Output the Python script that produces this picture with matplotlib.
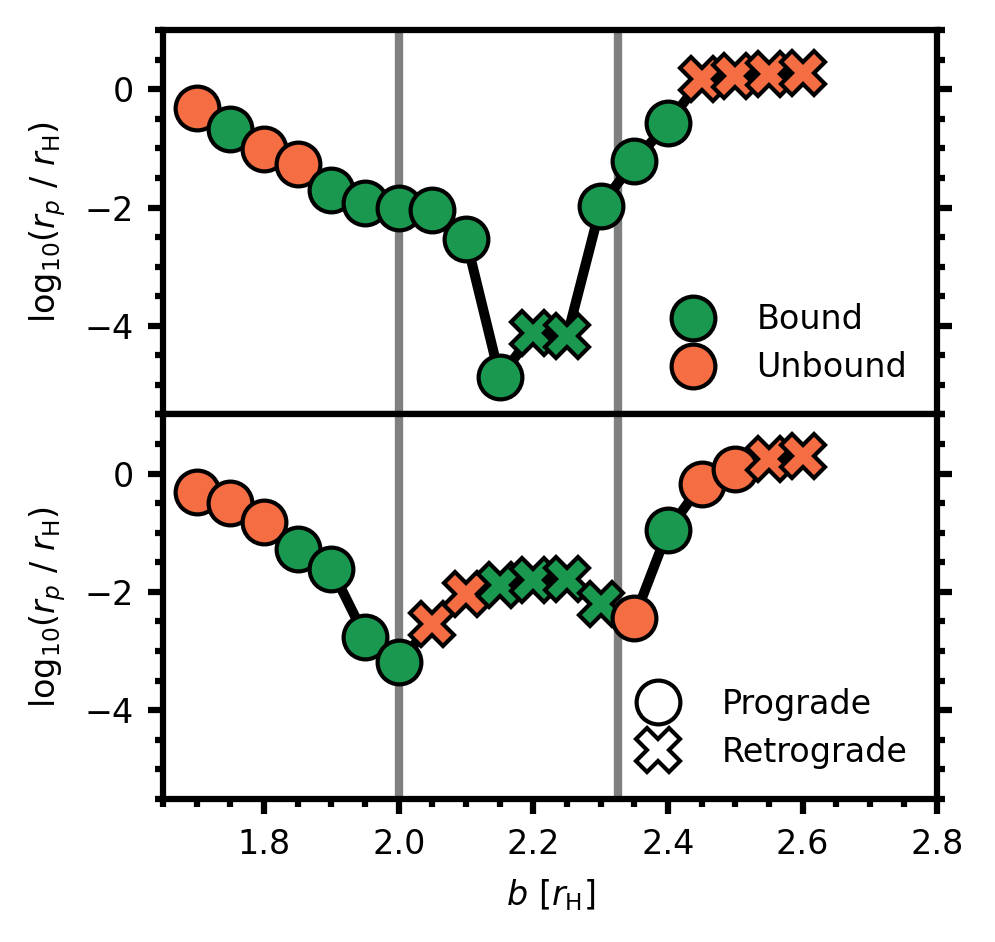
import numpy as np
import matplotlib
matplotlib.use('Agg')
import matplotlib.pyplot as plt
from matplotlib.lines import Line2D
from matplotlib.ticker import MultipleLocator

# impact parameter b [r_H]
b = [1.70, 1.75, 1.80, 1.85, 1.90, 1.95, 2.00, 2.05, 2.10, 2.15,
     2.20, 2.25, 2.30, 2.35, 2.40, 2.45, 2.50, 2.55, 2.60]

# top panel
logrp_top = [-0.31, -0.67, -1.01, -1.27, -1.70, -1.93, -2.01, -2.04, -2.54, -4.87,
             -4.13, -4.18, -1.97, -1.22, -0.57, 0.17, 0.22, 0.25, 0.28]
bound_top = [0, 1, 0, 0, 1, 1, 1, 1, 1, 1,
             1, 1, 1, 1, 1, 0, 0, 0, 0]
retro_top = [0, 0, 0, 0, 0, 0, 0, 0, 0, 0,
             1, 1, 0, 0, 0, 1, 1, 1, 1]

# bottom panel
logrp_bot = [-0.31, -0.50, -0.82, -1.28, -1.61, -2.76, -3.19, -2.54, -2.03, -1.89,
             -1.80, -1.78, -2.20, -2.44, -0.96, -0.18, 0.08, 0.25, 0.29]
bound_bot = [0, 0, 0, 1, 1, 1, 1, 0, 0, 1,
             1, 1, 1, 0, 1, 0, 0, 0, 0]
retro_bot = [0, 0, 0, 0, 0, 0, 0, 1, 1, 1,
             1, 1, 1, 0, 0, 0, 0, 1, 1]

vlines = [2.0, 2.325]

GREEN = '#1a9850'
ORANGE = '#f46d43'
MS = 10.5
FS = 8


def draw_panel(ax, y, bound, retro):
    for xv in vlines:
        ax.axvline(xv, color='grey', lw=2.0, zorder=0)
    ax.plot(b, y, color='k', lw=2.4, zorder=1)
    for xi, yi, bd, rt in zip(b, y, bound, retro):
        ax.plot(xi, yi, marker='X' if rt else 'o', ms=MS, mfc=GREEN if bd else ORANGE,
                mec='k', mew=1.0, ls='none', zorder=2)
    ax.set_xlim(1.65, 2.8)
    ax.set_ylim(-5.5, 1)
    ax.yaxis.set_major_locator(MultipleLocator(2))
    ax.yaxis.set_minor_locator(MultipleLocator(0.5))
    ax.xaxis.set_major_locator(MultipleLocator(0.2))
    ax.xaxis.set_minor_locator(MultipleLocator(0.05))
    ax.tick_params(which='both', direction='out', right=True, width=1.5, labelsize=FS)
    ax.tick_params(which='major', length=3.5)
    ax.tick_params(which='minor', length=2.0)
    for sp in ax.spines.values():
        sp.set_linewidth(1.5)
    ax.set_ylabel(r'$\mathrm{log}_{10}(r_p\ /\ r_{\rm H})$', fontsize=FS)


fig, (ax1, ax2) = plt.subplots(2, 1, sharex=True, figsize=(995 / 300, 942 / 300), dpi=300)
fig.subplots_adjust(left=0.164, right=0.942, top=0.968, bottom=0.152, hspace=0)

draw_panel(ax1, logrp_top, bound_top, retro_top)
draw_panel(ax2, logrp_bot, bound_bot, retro_bot)
ax1.tick_params(axis='x', which='both', bottom=False, labelbottom=False)
ax2.set_xlabel(r'$b\ [r_{\rm H}]$', fontsize=FS)

h1 = [Line2D([], [], marker='o', ls='none', ms=MS, mfc=GREEN, mec='k', mew=1.0),
      Line2D([], [], marker='o', ls='none', ms=MS, mfc=ORANGE, mec='k', mew=1.0)]
ax1.legend(h1, ['Bound', 'Unbound'], loc='lower right', frameon=False, fontsize=FS,
           handletextpad=0.9, labelspacing=0.45)
h2 = [Line2D([], [], marker='o', ls='none', ms=MS, mfc='white', mec='k', mew=1.0),
      Line2D([], [], marker='X', ls='none', ms=MS, mfc='white', mec='k', mew=1.0)]
ax2.legend(h2, ['Prograde', 'Retrograde'], loc='lower right', frameon=False, fontsize=FS,
           handletextpad=0.9, labelspacing=0.45)

plt.savefig('out.png', dpi=300)
